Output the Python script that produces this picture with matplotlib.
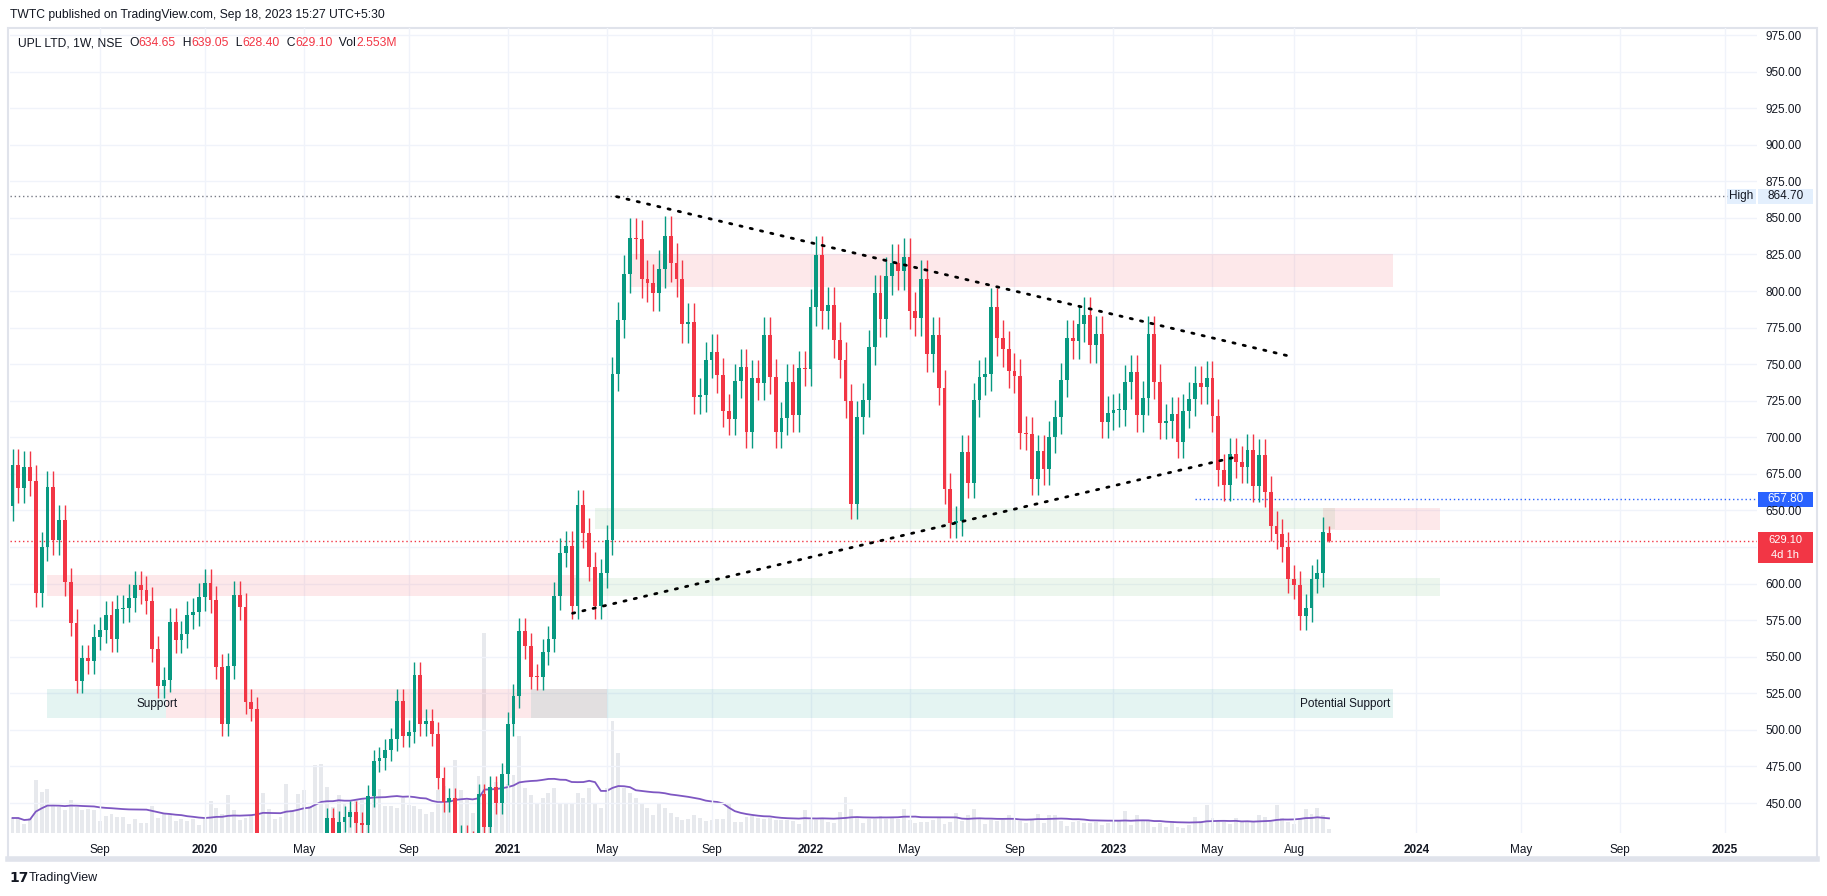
import matplotlib
matplotlib.use("Agg")
import matplotlib.pyplot as plt
import matplotlib.dates as mdates
import numpy as np
import pandas as pd

W, H = 1827, 896
# ---------------- data ----------------
first_week = "2019-05-20"
first_open = 653.3
closes = [
 681.1, 665.6, 680.0, 670.4, 593.4, 625.2, 666.3, 629.8, 643.5, 601.3,
 573.3, 533.7, 549.4, 547.1, 563.3, 568.3, 578.5, 561.9, 582.6, 583.0,
 590.2, 599.1, 595.6, 588.3, 555.3, 530.2, 534.1, 573.8, 561.7, 565.3,
 578.5, 580.6, 590.8, 600.4, 589.0, 543.2, 503.8, 543.7, 592.2, 584.2,
 519.3, 514.1, 330.0, 300.0, 350.0, 380.0, 400.0, 390.0, 410.0, 405.0,
 415.0, 400.0, 410.0, 420.0, 439.6, 429.0, 437.3, 440.7, 444.1, 436.6,
 435.0, 454.8, 478.8, 480.6, 486.3, 493.6, 519.8, 496.0, 498.8, 537.5,
 504.0, 506.3, 497.2, 466.9, 451.0, 453.2, 425.0, 428.0, 424.0, 420.0,
 456.0, 433.9, 460.8, 449.8, 469.9, 504.0, 523.2, 567.6, 557.4, 536.4,
 536.0, 553.0, 562.1, 591.5, 621.1, 625.9, 584.9, 653.7, 634.8, 611.6,
 584.9, 607.0, 629.8, 743.3, 780.2, 811.6, 836.3, 835.3, 808.0, 805.7,
 798.9, 814.8, 837.6, 819.4, 808.5, 777.2, 779.1, 727.8, 728.9, 752.9,
 758.3, 742.4, 718.2, 712.8, 738.5, 748.1, 703.9, 740.8, 737.4, 770.0,
 741.5, 703.9, 713.0, 738.0, 715.3, 747.2, 747.0, 788.9, 824.6, 786.6,
 790.2, 766.5, 752.9, 725.1, 654.7, 713.7, 725.5, 761.5, 798.4, 781.1,
 810.0, 818.9, 813.5, 823.0, 786.6, 781.6, 808.2, 756.7, 770.0, 734.0,
 664.9, 641.2, 643.0, 690.2, 669.0, 725.5, 741.0, 743.3, 789.1, 768.1,
 760.2, 745.4, 741.9, 703.1, 702.5, 671.6, 690.5, 678.1, 700.2, 713.9,
 739.1, 767.8, 766.0, 777.4, 783.6, 763.1, 770.6, 710.7, 716.6, 718.4,
 718.9, 737.8, 744.4, 715.4, 726.8, 770.6, 738.0, 710.0, 711.1, 715.9,
 697.0, 718.0, 726.2, 736.9, 734.6, 740.5, 714.8, 677.6, 667.4, 688.6,
 683.1, 679.7, 691.3, 666.5, 687.9, 662.8, 639.3, 633.9, 625.0, 603.1,
 599.0, 577.8, 583.3, 603.1, 607.4, 635.2, 629.1,
]
volumes = [
 15,15,9,15,53,41,44,28,26,23, 33,26,23,24,23,12,17,19,16,16,
 9,14,10,10,27,15,19,18,12,14, 12,14,8,15,32,25,19,38,23,13,
 15,18,26,40,24,14,16,49,23,39, 43,27,68,69,46,26,38,29,23,33,
 34,28,41,44,27,27,25,35,28,27, 24,19,21,43,47,33,73,43,33,20,
 57,200,46,51,43,49,58,97,45,38, 30,35,40,45,30,30,30,40,35,45,
 30,25,45,112,80,45,40,35,30,25, 18,30,25,20,16,13,14,18,15,12,
 13,14,14,29,11,11,16,17,15,14, 15,13,13,13,12,9,23,13,13,15,
 11,10,21,36,24,16,10,14,14,17, 14,16,14,24,13,10,11,11,13,15,
 9,11,20,12,18,24,14,9,13,12, 13,18,13,12,10,13,19,10,18,18,
 12,7,11,12,10,10,11,8,10,12, 12,22,8,18,12,12,6,10,6,12,
 6,5,8,16,12,28,15,12,11,9, 15,11,11,11,18,16,11,28,15,11,
 9,15,24,19,25,18,4,
]
price_ticks = [450, 475, 500, 525, 550, 575, 600, 625, 650, 675, 700, 725, 750,
               775, 800, 825, 850, 875, 900, 925, 950, 975]
hidden_price_labels = [625]   # covered by the last-price tag
month_ticks = [("2019-09", "Sep"), ("2020-01", "2020"), ("2020-05", "May"), ("2020-09", "Sep"),
               ("2021-01", "2021"), ("2021-05", "May"), ("2021-09", "Sep"), ("2022-01", "2022"),
               ("2022-05", "May"), ("2022-09", "Sep"), ("2023-01", "2023"), ("2023-05", "May"),
               ("2023-08", "Aug"), ("2024-01", "2024"), ("2024-05", "May"), ("2024-09", "Sep"),
               ("2025-01", "2025")]
all_time_high = 864.70
alert_price = 657.80
last_close = 629.10
header_ohlc = [("UPL LTD, 1W, NSE  ", "k"), ("O", "k"), ("634.65", "r"), ("  H", "k"),
               ("639.05", "r"), ("  L", "k"), ("628.40", "r"), ("  C", "k"),
               ("629.10", "r"), ("  Vol", "k"), ("2.553M", "r")]
zones = [
    ("2021-06-01", "2023-12-04", 803.0, 825.3, "pink"),
    ("2021-04-19", "2023-09-25", 637.6, 651.5, "green"),
    ("2023-09-11", "2024-01-29", 636.6, 651.5, "pink"),
    ("2021-03-22", "2024-01-29", 591.7, 603.6, "green"),
    ("2019-06-30", "2021-03-29", 591.8, 605.9, "pink"),
    ("2019-07-01", "2019-11-21", 508.4, 527.7, "teal"),
    ("2019-11-21", "2021-05-03", 508.4, 527.7, "pink"),
    ("2021-02-01", "2023-12-04", 508.4, 527.7, "teal"),
]
upper_trend = (("2021-05-15", 864.5), ("2023-07-30", 755.8))
lower_trend = (("2021-03-23", 579.7), ("2023-05-25", 686.0))
alert_start = "2023-04-10"

# ---------------- derived ----------------
n = len(closes)
dates = pd.date_range(first_week, periods=n, freq="7D")
opens = [first_open] + closes[:-1]
opens[-1] = 634.65
o = np.array(opens); c = np.array(closes)
hi = np.maximum(o, c) * 1.016
lo = np.minimum(o, c) * 0.984
hi[-1], lo[-1] = 639.05, 628.40
x = mdates.date2num(dates)

L, R, T, B = 10, 1757, 28, 833
dpp = (x[-1] - x[0]) / (1329 - 12.5)
xmin = x[0] - 2.5 * dpp
xmax = x[0] + (R - L - 2.5) * dpp
ymax = 975 + (35 - T) / 1.4629
ymin = 975 - (B - 35) / 1.4629

GREEN, RED = "#089981", "#f23645"
FONT = "Liberation Sans"
fig = plt.figure(figsize=(W / 100, H / 100), dpi=100)
fig.patch.set_facecolor("white")
ax = fig.add_axes([L / W, 1 - B / H, (R - L) / W, (B - T) / H])
axv = ax.twinx()
ax.set_zorder(axv.get_zorder() + 1)
ax.patch.set_visible(False)
axv.set_ylim(0, B - T)
axv.axis("off")

axv.bar(x, volumes, width=4.7, color="#d1d4dc", alpha=0.5, linewidth=0)
ma = pd.Series(volumes, dtype=float).rolling(20, min_periods=1).mean()
axv.plot(x, ma, color="#7e57c2", lw=1.3)

ax.set_xlim(xmin, xmax)
ax.set_ylim(ymin, ymax)

def d(s):
    return mdates.date2num(pd.Timestamp(s))

zc = {"pink": ("#f23645", 0.11), "green": ("#4caf50", 0.10), "teal": ("#26a69a", 0.12)}
for s, e, l, h, colr in zones:
    cc, a = zc[colr]
    ax.fill_between([d(s), d(e)], l, h, color=cc, alpha=a, lw=0, zorder=1)

ax.text(d("2019-11-10"), 518.0, "Support", ha="center", va="center", fontsize=8.5,
        color="#131722", family=FONT, zorder=5)
ax.text(d("2023-12-01"), 518.0, "Potential Support", ha="right", va="center", fontsize=8.5,
        color="#131722", family=FONT, zorder=5)

col = np.where(c >= o, GREEN, RED)
ax.vlines(x, lo, hi, colors=col, lw=1.0, zorder=3)
body_lo = np.minimum(o, c)
body_h = np.maximum(np.abs(c - o), 0.7)
ax.bar(x, body_h, bottom=body_lo, width=4.6, color=col, linewidth=0, zorder=4)

for (s, p1), (e, p2) in (upper_trend, lower_trend):
    ax.plot([d(s), d(e)], [p1, p2], color="#000000", lw=2.0, ls=(0, (0.8, 3.0)),
            dash_capstyle="round", zorder=5)

ax.axhline(all_time_high, color="#787b86", lw=1, ls=(0, (1, 2)), zorder=2,
           xmax=(1727 - L) / (R - L))
ax.axhline(last_close, color=RED, lw=1, ls=(0, (1, 2)), zorder=2)
ax.plot([d(alert_start), xmax], [alert_price, alert_price], color="#2962ff", lw=1,
        ls=(0, (1, 2)), zorder=2)

ax.set_yticks(price_ticks)
ax.set_yticklabels(["" if p in hidden_price_labels else f"{p:.2f}" for p in price_ticks])
ax.yaxis.tick_right()
ax.tick_params(axis="y", length=0, pad=6, labelsize=8.5, labelcolor="#131722")
tick_dates = []
for ym, lab in month_ticks:
    t = pd.Timestamp(ym + "-01")
    t = t + pd.Timedelta(days=(7 - t.weekday()) % 7)
    tick_dates.append(mdates.date2num(t))
ax.set_xticks(tick_dates)
ax.set_xticklabels([lab for _, lab in month_ticks])
for lbl, (_, lab) in zip(ax.get_xticklabels(), month_ticks):
    if lab.isdigit():
        lbl.set_fontweight("bold")
ax.tick_params(axis="x", length=0, pad=8, labelsize=8.5, labelcolor="#131722")
for lab in ax.get_xticklabels() + ax.get_yticklabels():
    lab.set_family(FONT)
ax.grid(True, color="#f0f3fa", lw=1)
ax.set_axisbelow(True)
for sp in ax.spines.values():
    sp.set_visible(False)

from matplotlib.lines import Line2D
from matplotlib.patches import Rectangle
def fx(px): return px / W
def fy(py): return 1 - py / H
fig.add_artist(Rectangle((fx(8), fy(860)), fx(1817) - fx(8), fy(28) - fy(860),
                         fill=False, ec="#e0e3eb", lw=1.5))
fig.add_artist(Line2D([fx(8), fx(1817)], [fy(859), fy(859)], color="#e0e3eb", lw=4))

def tag(x0, x1, yc, txt, fc, tc, h=15, fs=8.5):
    fig.add_artist(Rectangle((fx(x0), fy(yc + h / 2)), fx(x1) - fx(x0), h / H,
                             fc=fc, ec="none"))
    fig.text(fx((x0 + x1) / 2), fy(yc), txt, ha="center", va="center", fontsize=fs,
             color=tc, family=FONT)

def ypix(p): return 35 + (975 - p) * 1.4629
tag(1727, 1756, ypix(all_time_high), "High", "#e3effd", "#131722")
tag(1758, 1813, ypix(all_time_high), f"{all_time_high:.2f}", "#e3effd", "#131722")
tag(1758, 1813, ypix(alert_price), f"{alert_price:.2f}", "#2962ff", "white")
yl = ypix(last_close)
fig.add_artist(Rectangle((fx(1758), fy(yl + 22)), fx(1813) - fx(1758), 31 / H,
                         fc=RED, ec="none"))
fig.text(fx(1785), fy(yl - 1), f"{last_close:.2f}", ha="center", va="center", fontsize=8,
         color="white", family=FONT)
fig.text(fx(1785), fy(yl + 14), "4d 1h", ha="center", va="center", fontsize=8,
         color="white", family=FONT)

fig.text(fx(10), fy(15), "TWTC published on TradingView.com, Sep 18, 2023 15:27 UTC+5:30",
         ha="left", va="center", fontsize=8.7, color="#131722", family=FONT)
renderer = fig.canvas.get_renderer()
xp = 18
for t, cc in header_ohlc:
    tt = fig.text(fx(xp), fy(43), t, ha="left", va="center", fontsize=8.7,
                  color=RED if cc == "r" else "#131722", family=FONT)
    xp += tt.get_window_extent(renderer).width

fig.text(fx(9), fy(878), "17", ha="left", va="center", fontsize=10, weight="heavy",
         color="#131722", family="DejaVu Sans")
fig.text(fx(29), fy(878), "TradingView", ha="left", va="center", fontsize=9,
         color="#131722", family=FONT)

fig.savefig("out.png", dpi=100, facecolor="white")
